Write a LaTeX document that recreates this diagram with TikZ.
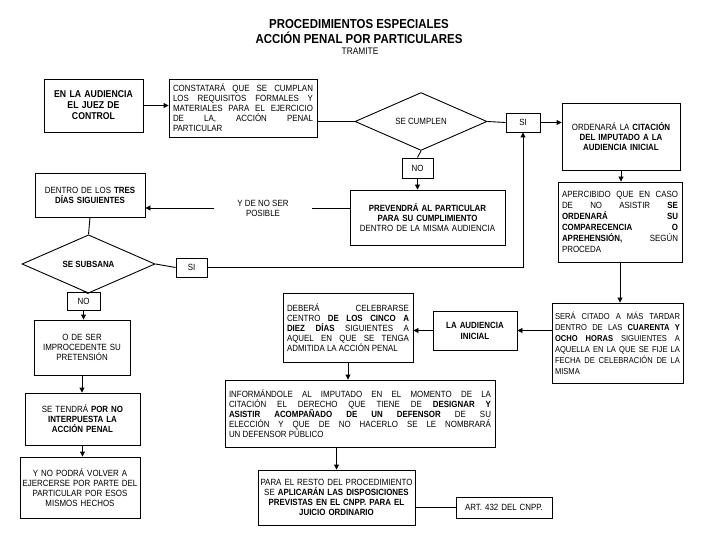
\documentclass[tikz,border=0pt]{standalone}
\usepackage{fontspec}
\setmainfont{Liberation Sans}[FakeStretch=0.88]
\usetikzlibrary{shapes.geometric,arrows.meta}
\tolerance=10000
\hbadness=10000

\begin{document}
\begin{tikzpicture}[x=1pt, y=-1pt, line width=0.9pt,
    caja/.style={draw, inner xsep=4pt, inner ysep=3pt, align=center, font=\fontsize{9}{10}\selectfont},
    cajaj/.style={caja, align=justify},
    etiqueta/.style={draw, inner sep=0pt, font=\fontsize{9}{10}\selectfont},
    rombo/.style={draw, diamond, inner sep=0pt, font=\fontsize{9}{10}\selectfont},
    flecha/.style={-{Triangle[length=5pt, width=5pt]}}]
    \path[fill=white] (0,0) rectangle (720,540);

    \node[align=center, font=\fontsize{13}{15}\selectfont\bfseries] (titulo) at (359,31.5) {PROCEDIMIENTOS ESPECIALES\\ACCIÓN PENAL POR PARTICULARES};
    \node[font=\fontsize{9.5}{10}\selectfont] (tramite) at (360,51) {TRAMITE};

    \node[caja, text width=91pt, minimum height=53pt, font=\fontsize{9.9}{11}\selectfont\bfseries] (audiencia) at (93.5,105.5) {EN LA AUDIENCIA\\EL JUEZ DE\\CONTROL};
    \node[cajaj, text width=140pt, minimum height=58pt] (constata) at (243,108) {CONSTATARÁ QUE SE CUMPLAN\linebreak LOS REQUISITOS FORMALES Y\linebreak MATERIALES PARA EL EJERCICIO\linebreak DE LA, ACCIÓN PENAL\linebreak PARTICULAR};
    \node[rombo, minimum width=132pt, minimum height=43pt] (cumplen) at (421,121.5) {SE CUMPLEN};
    \node[etiqueta, minimum width=34pt, minimum height=19pt] (si1) at (523,122.5) {SI};
    \node[caja, text width=110pt, minimum height=67pt] (citacion) at (621,136.5) {ORDENARÁ LA \textbf{CITACIÓN}\\\textbf{DEL IMPUTADO A LA}\\\textbf{AUDIENCIA INICIAL}};
    \node[etiqueta, minimum width=31pt, minimum height=20pt] (no1) at (417.5,168) {NO};
    \node[caja, text width=147pt, minimum height=55pt] (prevendra) at (427.5,217.5) {\textbf{PREVENDRÁ AL PARTICULAR}\\\textbf{PARA SU CUMPLIMIENTO}\\DENTRO DE LA MISMA AUDIENCIA};
    \node[align=center, minimum width=97pt, inner sep=0pt, font=\fontsize{9}{10}\selectfont] (posible) at (263,208) {Y DE NO SER\\POSIBLE};
    \node[caja, text width=102pt, minimum height=44pt] (tres) at (90,195) {DENTRO DE LOS \textbf{TRES}\\\textbf{DÍAS SIGUIENTES}};
    \node[rombo, minimum width=133pt, minimum height=52pt, font=\fontsize{9}{10}\selectfont\bfseries] (subsana) at (88.5,264) {SE SUBSANA};
    \node[etiqueta, minimum width=31pt, minimum height=19pt] (si2) at (191.5,267.5) {SI};
    \node[etiqueta, minimum width=33pt, minimum height=18pt] (no2) at (83.5,301) {NO};
    \node[caja, text width=88pt, minimum height=55pt] (improcede) at (82,347.5) {O DE SER\\IMPROCEDENTE SU\\PRETENSIÓN};
    \node[caja, text width=107pt, minimum height=52pt] (tendra) at (82.5,419) {SE TENDRÁ \textbf{POR NO}\\\textbf{INTERPUESTA LA}\\\textbf{ACCIÓN PENAL}};
    \node[caja, inner xsep=2pt, text width=116pt, minimum height=61pt] (volver) at (80,487.5) {Y NO PODRÁ VOLVER A\\EJERCERSE POR PARTE DEL\\PARTICULAR POR ESOS\\MISMOS HECHOS};

    \node[cajaj, text width=116pt, minimum height=80pt, font=\fontsize{9}{11}\selectfont] (apercibido) at (620,222) {APERCIBIDO QUE EN CASO\linebreak DE NO ASISTIR \textbf{SE}\linebreak \textbf{ORDENARÁ SU}\linebreak \textbf{COMPARECENCIA O}\linebreak \textbf{APREHENSIÓN,} SEGÚN\linebreak PROCEDA};
    \node[cajaj, inner xsep=3pt, text width=125pt, minimum height=80pt, font=\fontsize{8.6}{11}\selectfont] (citado) at (617.5,343) {SERÁ CITADO A MÁS TARDAR\linebreak DENTRO DE LAS \textbf{CUARENTA Y}\linebreak \textbf{OCHO HORAS} SIGUIENTES A\linebreak AQUELLA EN LA QUE SE FIJE LA\linebreak FECHA DE CELEBRACIÓN DE LA\linebreak MISMA};
    \node[caja, text width=76pt, minimum height=39pt, font=\fontsize{9}{11}\selectfont\bfseries] (inicial) at (475,330.5) {LA AUDIENCIA\\INICIAL};
    \node[cajaj, text width=122pt, minimum height=69pt] (celebrarse) at (348,327.5) {DEBERÁ CELEBRARSE\linebreak CENTRO \textbf{DE LOS CINCO A}\linebreak \textbf{DIEZ DÍAS} SIGUIENTES A\linebreak AQUEL EN QUE SE TENGA\linebreak ADMITIDA LA ACCIÓN PENAL};
    \node[cajaj, text width=262pt, minimum height=67pt] (informando) at (360,413.5) {INFORMÁNDOLE AL IMPUTADO EN EL MOMENTO DE LA\linebreak CITACIÓN EL DERECHO QUE TIENE DE \textbf{DESIGNAR Y}\linebreak \textbf{ASISTIR ACOMPAÑADO DE UN DEFENSOR} DE SU\linebreak ELECCIÓN Y QUE DE NO HACERLO SE LE NOMBRARÁ\linebreak UN DEFENSOR PÚBLICO};
    \node[caja, inner xsep=2pt, text width=153pt, minimum height=55pt] (resto) at (336.5,497.5) {PARA EL RESTO DEL PROCEDIMIENTO\\SE \textbf{APLICARÁN LAS DISPOSICIONES}\\\textbf{PREVISTAS EN EL CNPP. PARA EL}\\\textbf{JUICIO ORDINARIO}};
    \node[caja, text width=88pt, minimum height=21pt] (art) at (504,507.5) {ART. 432 DEL CNPP.};

    \draw[flecha] (audiencia.east) -- (audiencia.east -| constata.west);
    \draw (constata.east |- cumplen.west) -- (cumplen.west);
    \draw (cumplen.east) -- (si1.west);
    \draw[flecha] (si1.east) -- (si1.east -| citacion.west);
    \draw (cumplen.south) -- (no1.north);
    \draw[flecha] (no1.south) -- (no1.south |- prevendra.north);
    \draw (prevendra.west |- posible.east) -- (posible.east);
    \draw[flecha] (posible.west) -- (posible.west -| tres.east);
    \draw (tres.south) -- (subsana.north);
    \draw (subsana.east) -- (si2.west);
    \draw[flecha] (si2.east) -| (si1.south);
    \draw (subsana.south) -- (no2.north);
    \draw[flecha] (no2.south) -- (no2.south |- improcede.north);
    \draw[flecha] (improcede.south) -- (improcede.south |- tendra.north);
    \draw[flecha] (tendra.south) -- (tendra.south |- volver.north);
    \draw[flecha] (citacion.south) -- (citacion.south |- apercibido.north);
    \draw[flecha] (apercibido.south) -- (apercibido.south |- citado.north);
    \draw[flecha] (citado.west |- inicial.east) -- (inicial.east);
    \draw[flecha] (inicial.west) -- (inicial.west -| celebrarse.east);
    \draw[flecha] (celebrarse.south) -- (celebrarse.south |- informando.north);
    \draw[flecha] (resto.north |- informando.south) -- (resto.north);
    \draw (resto.east |- art.west) -- (art.west);
\end{tikzpicture}
\end{document}
